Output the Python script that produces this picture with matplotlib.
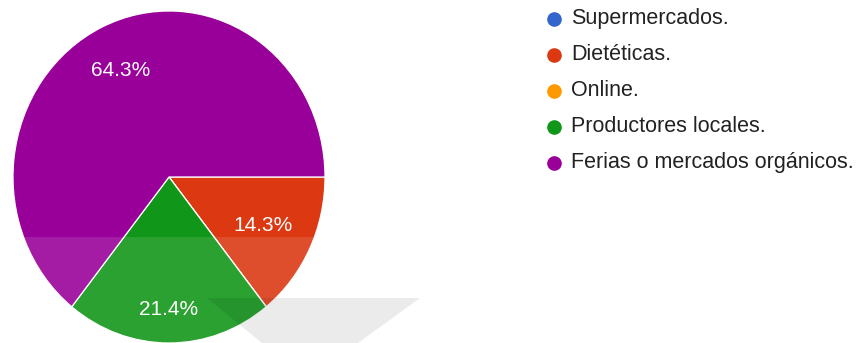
import matplotlib.pyplot as plt
import numpy as np
from matplotlib.patches import Polygon, Rectangle
from matplotlib.lines import Line2D

plt.rcParams['font.family'] = ['Liberation Sans', 'DejaVu Sans']

# Respuestas: dónde compran productos orgánicos (14 respuestas)
labels = ['Supermercados.', 'Dietéticas.', 'Online.', 'Productores locales.',
          'Ferias o mercados orgánicos.']
counts = [0, 2, 0, 3, 9]
colors = ['#3366cc', '#dc3912', '#ff9900', '#109618', '#990099']
label_dist = [0.0, 0.67, 0.0, 0.80, 0.71]

W, H = 860, 343
fig = plt.figure(figsize=(W / 100, H / 100), dpi=100)

# pie axes, slightly taller than wide
ax = fig.add_axes([13 / W, 0, 312 / W, 332 / H])
wedges, texts, autotexts = ax.pie(
    counts, colors=colors, startangle=0, counterclock=False,
    autopct=lambda p: f'{p:.1f}%' if p > 0 else '',
    wedgeprops=dict(edgecolor='white', linewidth=0.9),
    textprops=dict(color='white', fontsize=15))
ax.set_aspect('auto')
ax.set_xlim(-1, 1)
ax.set_ylim(-1, 1)

# move the percentage labels along each wedge's mid angle
for w, t, d in zip(wedges, autotexts, label_dist):
    mid = np.deg2rad((w.theta1 + w.theta2) / 2)
    t.set_position((d * np.cos(mid), d * np.sin(mid)))
    t.set_ha('center')
    t.set_va('center')

# overlay in pixel coordinates for legend and faint watermark
ov = fig.add_axes([0, 0, 1, 1], zorder=5)
ov.set_xlim(0, W)
ov.set_ylim(H, 0)
ov.axis('off')
ov.patch.set_alpha(0)

ov.add_patch(Rectangle((0, 237), 560, 106, color='white', alpha=0.11, lw=0))
ov.add_patch(Polygon([(207, 298), (420, 298), (358, 343), (262, 343)],
                     closed=True, color='black', alpha=0.08, lw=0))

for i, (lab, c) in enumerate(zip(labels, colors)):
    y = 18.5 + i * 36
    ov.add_line(Line2D([554], [y], marker='o', markersize=9.5,
                       markerfacecolor=c, markeredgecolor=c, linestyle='none'))
    ov.text(571, y, lab, fontsize=15.5, color='#222222', ha='left', va='center')

fig.savefig('out.png', dpi=100)
